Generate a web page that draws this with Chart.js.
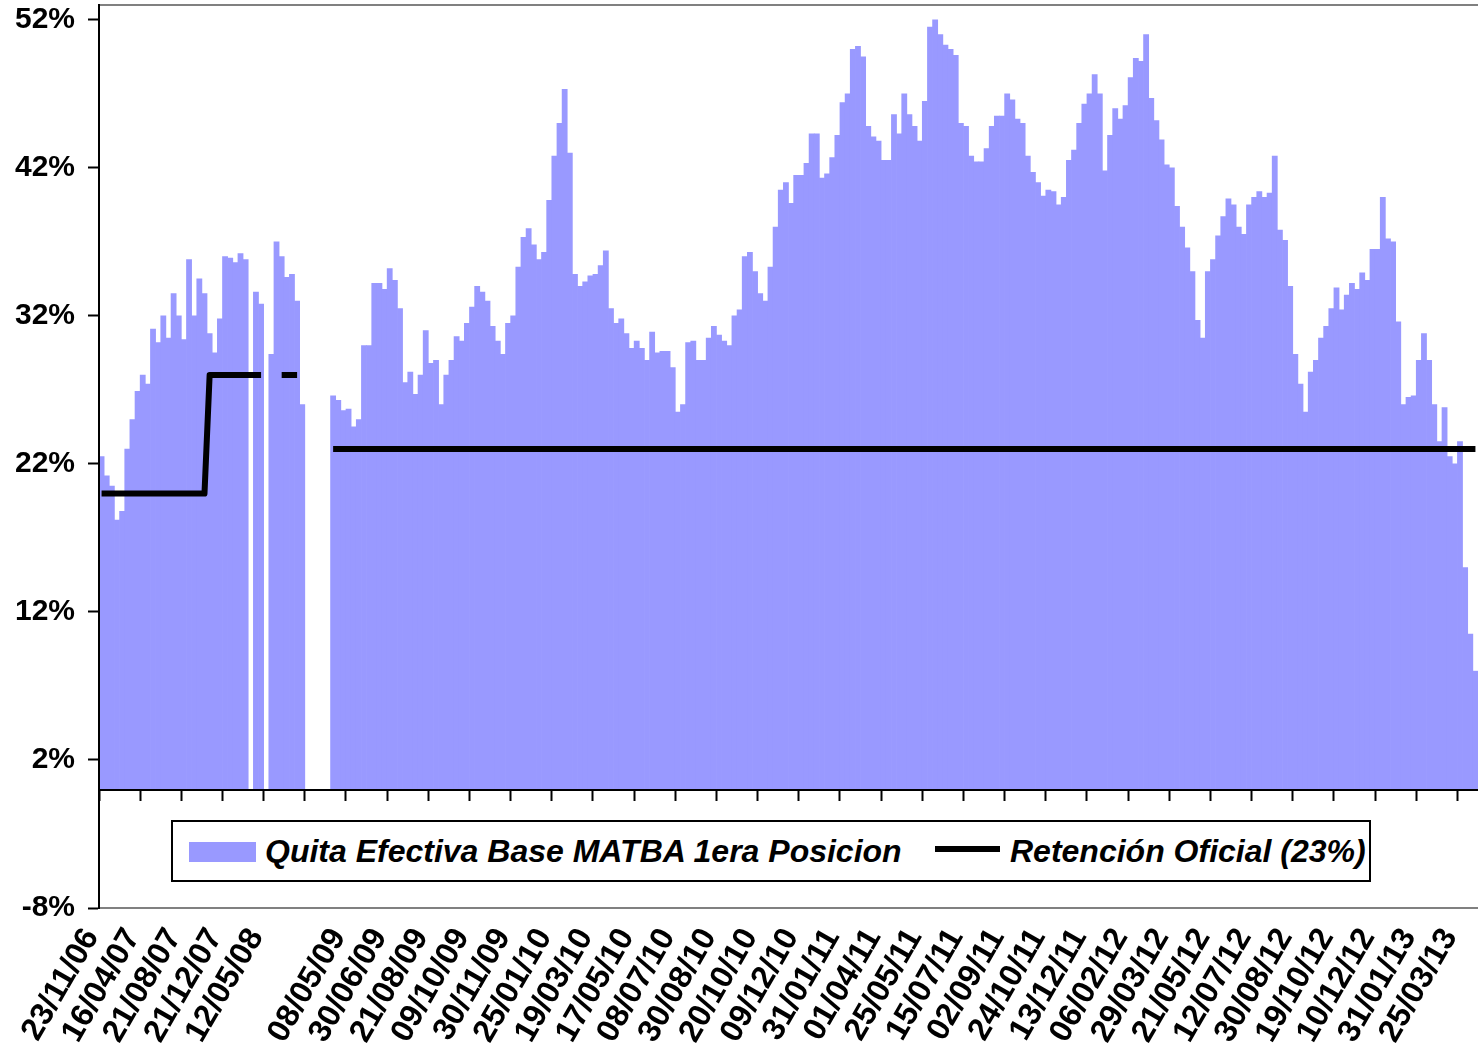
<!DOCTYPE html>
<html>
<head>
<meta charset="utf-8">
<title>Quita Efectiva Base MATBA 1era Posicion</title>
<script src="https://cdn.jsdelivr.net/npm/chart.js@4.4.1/dist/chart.umd.min.js"></script>
<style>
    html, body { margin: 0; padding: 0; background: #ffffff; }
    #wrap { position: relative; width: 1478px; height: 1047px; }
    #legendBox {
        position: absolute; left: 171px; top: 820px; width: 1200px; height: 62px;
        box-sizing: border-box; border: 2px solid #000000; background: #ffffff;
        font: italic bold 32px "Liberation Sans", Arial, sans-serif; color: #000000;
    }
    #legendBox .swatch { position: absolute; }
    #legendBox .text { position: absolute; line-height: 32px; white-space: nowrap; }
</style>
</head>
<body>
<div id="wrap">
    <canvas id="quitaChart"></canvas>
    <div id="legendBox">
        <div class="swatch" style="left:16px; top:20px; width:67px; height:20px; background:#9999ff;"></div>
        <div class="text" style="left:92px; top:13px;">Quita Efectiva Base MATBA 1era Posicion</div>
        <div class="swatch" style="left:762px; top:24px; width:65px; height:6px; background:#000000;"></div>
        <div class="text" style="left:837px; top:13px;">Retención Oficial (23%)</div>
    </div>
</div>
<script>
// one bar per trading sample, 8 bars between two date labels
const barsPerLabel = 8;

// date labels shown under the axis (one every 8 bars, blank where data is missing)
const tickLabels = [
    '23/11/06', '16/04/07', '21/08/07', '21/12/07', '12/05/08', '',
    '08/05/09', '30/06/09', '21/08/09', '09/10/09', '30/11/09', '25/01/10',
    '19/03/10', '17/05/10', '08/07/10', '30/08/10', '20/10/10', '09/12/10',
    '31/01/11', '01/04/11', '25/05/11', '15/07/11', '02/09/11', '24/10/11',
    '13/12/11', '06/02/12', '29/03/12', '21/05/12', '12/07/12', '30/08/12',
    '19/10/12', '10/12/12', '31/01/13', '25/03/13'
];

// Quita efectiva base MATBA 1era posicion (%)
const quita = [
    22.5, 21.2, 20.5, 18.2, 18.8, 23.0, 25.0, 26.9,
    28.0, 27.4, 31.1, 30.2, 32.0, 30.5, 33.5, 32.0,
    30.4, 35.8, 32.0, 34.5, 33.5, 30.8, 29.5, 31.8,
    36.0, 35.9, 35.6, 36.2, 35.8, null, 33.6, 32.8,
    null, 29.4, 37.0, 36.0, 34.6, 34.8, 33.0, 26.0,
    null, null, null, null, null, 26.6, 26.3, 25.6,
    25.7, 24.5, 25.0, 30.0, 30.0, 34.2, 34.2, 33.8,
    35.2, 34.4, 32.5, 27.5, 28.2, 26.7, 28.0, 31.0,
    28.8, 29.0, 26.0, 28.0, 29.0, 30.6, 30.3, 31.5,
    32.6, 34.0, 33.6, 33.0, 31.3, 30.3, 29.4, 31.5,
    32.0, 35.3, 37.3, 37.9, 36.8, 35.8, 36.3, 39.8,
    42.8, 45.0, 47.3, 43.0, 34.8, 34.0, 34.3, 34.7,
    34.8, 35.4, 36.4, 32.5, 31.5, 31.8, 30.8, 29.8,
    30.3, 29.8, 29.0, 30.9, 29.5, 29.6, 29.6, 28.5,
    25.5, 26.0, 30.2, 30.3, 29.0, 29.0, 30.5, 31.3,
    30.7, 30.3, 30.0, 32.0, 32.4, 36.0, 36.3, 35.0,
    33.5, 33.0, 35.3, 38.0, 40.5, 41.0, 39.6, 41.5,
    41.5, 42.3, 44.3, 44.3, 41.3, 41.6, 42.7, 44.2,
    46.4, 47.0, 50.0, 50.2, 49.5, 44.8, 44.1, 43.8,
    42.5, 42.5, 45.6, 44.3, 47.0, 45.6, 44.8, 43.8,
    46.5, 51.5, 52.0, 51.0, 50.3, 50.0, 49.6, 45.0,
    44.8, 42.8, 42.4, 42.4, 43.3, 44.8, 45.5, 45.5,
    47.0, 46.6, 45.3, 45.0, 42.8, 41.7, 41.0, 40.1,
    40.5, 40.4, 39.5, 40.0, 42.5, 43.2, 45.0, 46.3,
    47.0, 48.3, 47.0, 41.8, 44.2, 46.0, 45.3, 46.2,
    48.1, 49.4, 49.2, 51.0, 46.7, 45.2, 43.9, 42.2,
    42.0, 39.4, 38.0, 36.6, 35.0, 31.7, 30.5, 35.0,
    35.8, 37.4, 38.7, 39.9, 39.5, 38.0, 37.5, 39.5,
    40.0, 40.4, 40.0, 40.3, 42.8, 37.8, 37.1, 34.0,
    29.4, 27.4, 25.5, 28.2, 29.0, 30.5, 31.3, 32.5,
    33.9, 32.4, 33.4, 34.2, 33.8, 34.9, 34.4, 36.5,
    36.5, 40.0, 37.2, 37.0, 31.6, 26.0, 26.5, 26.6,
    29.0, 30.8, 29.0, 26.0, 23.5, 25.8, 22.5, 22.0,
    23.5, 15.0, 10.5, 8.0
];

// Retencion oficial: rate in force over each run of bars
const retStart = [0, 21, 35, 45];
const retEnd = [20, 31, 38, 267];
const retRate = [20, 28, 28, 23];

// y axis ticks
const yTicks = [-8, 2, 12, 22, 32, 42, 52];

// category labels: a date every 8 bars, empty otherwise
const labels = quita.map((v, i) => (i % barsPerLabel === 0 ? (tickLabels[i / barsPerLabel] || '') : ''));
const retencion = quita.map((v, i) => {
    const k = retStart.findIndex((s, j) => i >= s && i <= retEnd[j]);
    return k < 0 ? null : retRate[k];
});

const fontFamily = '"Liberation Sans", Arial, sans-serif';

const ctx = document.getElementById('quitaChart').getContext('2d');
const quitaChart = new Chart(ctx, {
    type: 'bar',
    data: {
        labels: labels,
        datasets: [
            {
                type: 'line',
                label: 'Retención Oficial (23%)',
                data: retencion,
                borderColor: '#000000',
                borderWidth: 6,
                borderJoinStyle: 'round',
                pointRadius: 0,
                fill: false,
                spanGaps: false,
                order: 0
            },
            {
                label: 'Quita Efectiva Base MATBA 1era Posicion',
                data: quita,
                backgroundColor: '#9999ff',
                borderWidth: 0,
                barPercentage: 1,
                categoryPercentage: 1,
                order: 1
            }
        ]
    },
    options: {
        responsive: true,
        maintainAspectRatio: false,
        animation: false,
        events: [],
        layout: { padding: { top: 5, left: 0, right: 0, bottom: 0 } },
        plugins: {
            legend: { display: false },
            tooltip: { enabled: false }
        },
        scales: {
            x: {
                type: 'category',
                position: { y: 0 },
                offset: true,
                grid: {
                    offset: true,
                    drawOnChartArea: false,
                    tickLength: 10,
                    tickWidth: 2,
                    tickColor: (c) => (c.index !== undefined && c.index % barsPerLabel === 0 ? '#000000' : 'rgba(0,0,0,0)')
                },
                border: { color: '#000000', width: 2, z: 1 },
                ticks: { display: false }
            },
            x2: {
                type: 'category',
                axis: 'x',
                position: 'bottom',
                offset: true,
                grid: { display: false },
                border: { color: '#808080', width: 2 },
                ticks: {
                    autoSkip: false,
                    minRotation: 60,
                    maxRotation: 60,
                    padding: 6,
                    labelOffset: -10,
                    color: '#000000',
                    font: { family: fontFamily, size: 32, weight: 'bold' }
                },
                afterFit: (scale) => {
                    scale.height = 139;
                    scale.paddingLeft = 0;
                    scale.paddingRight = 0;
                }
            },
            xTop: {
                type: 'category',
                axis: 'x',
                position: 'top',
                grid: { display: false },
                border: { color: '#808080', width: 2 },
                ticks: { display: false },
                afterFit: (scale) => { scale.height = 0; }
            },
            y: {
                type: 'linear',
                min: -8,
                max: 53,
                grid: {
                    drawOnChartArea: false,
                    tickLength: 11,
                    tickWidth: 2,
                    tickColor: '#000000'
                },
                border: { color: '#000000', width: 2, z: 1 },
                ticks: {
                    padding: 13,
                    color: '#000000',
                    font: { family: fontFamily, size: 30, weight: 'bold' },
                    callback: (v) => v + '%'
                },
                afterBuildTicks: (scale) => {
                    scale.ticks = yTicks.map(v => ({ value: v }));
                },
                afterFit: (scale) => {
                    scale.width = 99;
                    scale.paddingTop = 0;
                    scale.paddingBottom = 0;
                }
            }
        }
    }
});
</script>
</body>
</html>
